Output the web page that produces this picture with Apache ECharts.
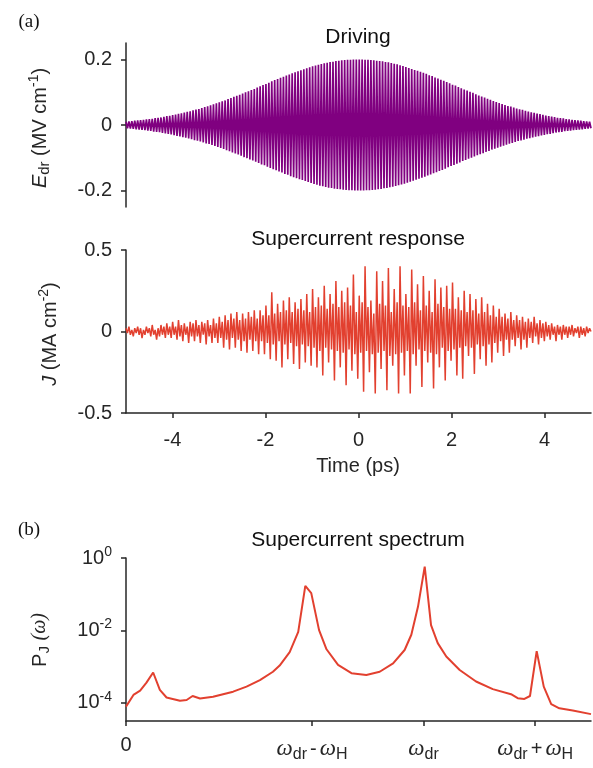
<!DOCTYPE html>
<html>
<head>
<meta charset="utf-8">
<script src="https://cdn.jsdelivr.net/npm/echarts@6/dist/echarts.min.js"></script>
<style>
html,body{margin:0;padding:0;background:#fff;}
#chart{width:593px;height:768px;}
</style>
</head>
<body>
<div id="chart"></div>
<script>
// ---- Data ----
const timeRange = [-5, 5];           // ps, sampling window of the two time traces
// Driving field extremes (MV/cm), alternating half-cycle peaks (a) top
const driveValues = [
 .010,-.010,.011,-.011,.012,-.012,.013,-.013,.014,-.014,.015,-.015,.016,-.016,.017,-.017,.018,-.018,.019,-.020,
 .021,-.021,.022,-.022,.023,-.024,.025,-.026,.027,-.027,.028,-.029,.030,-.031,.032,-.033,.034,-.035,.036,-.037,
 .038,-.039,.040,-.041,.042,-.043,.045,-.046,.047,-.048,.049,-.050,.052,-.053,.055,-.056,.057,-.058,.060,-.061,
 .063,-.064,.066,-.067,.069,-.070,.072,-.073,.075,-.077,.079,-.080,.082,-.084,.086,-.087,.089,-.090,.092,-.094,
 .096,-.098,.100,-.101,.103,-.105,.107,-.108,.110,-.112,.114,-.116,.118,-.120,.122,-.123,.125,-.127,.129,-.131,
 .133,-.135,.137,-.138,.140,-.142,.144,-.145,.147,-.149,.151,-.152,.154,-.156,.158,-.159,.161,-.162,.164,-.165,
 .167,-.168,.170,-.171,.173,-.174,.176,-.177,.179,-.180,.181,-.182,.184,-.185,.186,-.187,.188,-.189,.190,-.191,
 .192,-.192,.193,-.194,.195,-.195,.196,-.196,.197,-.197,.198,-.198,.199,-.199,.199,-.199,.200,-.200,.200,-.200,
 .200,-.200,.200,-.200,.199,-.199,.199,-.199,.198,-.198,.197,-.197,.196,-.196,.195,-.195,.194,-.193,.192,-.192,
 .191,-.190,.189,-.188,.187,-.186,.185,-.184,.182,-.181,.180,-.179,.177,-.176,.174,-.173,.171,-.170,.168,-.167,
 .165,-.164,.162,-.161,.159,-.158,.156,-.154,.152,-.151,.149,-.147,.145,-.144,.142,-.140,.138,-.137,.135,-.133,
 .131,-.129,.127,-.125,.123,-.122,.120,-.118,.116,-.114,.112,-.110,.108,-.107,.105,-.103,.101,-.100,.098,-.096,
 .094,-.092,.090,-.089,.087,-.086,.084,-.082,.080,-.079,.077,-.075,.073,-.072,.070,-.069,.067,-.066,.064,-.063,
 .061,-.060,.058,-.057,.056,-.055,.053,-.052,.050,-.049,.048,-.047,.046,-.045,.043,-.042,.041,-.040,.039,-.038,
 .037,-.036,.035,-.034,.033,-.032,.031,-.030,.029,-.028,.027,-.027,.026,-.025,.024,-.023,.022,-.022,.021,-.021,
 .020,-.019,.018,-.018,.017,-.017,.016,-.016,.015,-.015,.014,-.014,.013,-.013,.012,-.012,.011,-.011,.010,-.010
];
// Supercurrent response extremes (MA/cm^2) (a) bottom
const currentValues = [
 .02,-.01,.03,-.02,.01,-.03,.02,-.01, .03,-.02,.02,-.04,.01,-.02,.03,-.01, .02,-.03,.04,-.02,.01,-.05,.02,-.03, .04,-.02,.03,-.04,.05,-.02,.03,-.04,
 .06,-.02,.03,-.05,.07,-.03,.04,-.06, .05,-.02,.03,-.07,.06,-.03,.05,-.06, .07,-.03,.04,-.07,.06,-.02,.05,-.08, .07,-.03,.04,-.07,.08,-.04,.05,-.07,
 .09,-.04,.06,-.10,.10,-.05,.07,-.11, .11,-.04,.08,-.10,.12,-.05,.07,-.12, .11,-.06,.08,-.13,.12,-.05,.09,-.12, .13,-.06,.08,-.14,.13,-.06,.10,-.14,
 .16,-.07,.10,-.17,.24,-.08,.11,-.18, .17,-.06,.12,-.22,.19,-.08,.13,-.17, .21,-.07,.12,-.20,.18,-.09,.14,-.23, .20,-.08,.13,-.19,.23,-.09,.12,-.21,
 .26,-.10,.15,-.22,.21,-.12,.16,-.27, .28,-.10,.14,-.19,.23,-.11,.17,-.30, .31,-.12,.15,-.22,.25,-.13,.18,-.33, .27,-.11,.16,-.24,.35,-.14,.12,-.29,
 .22,-.13,.18,-.37,.40,-.12,.15,-.25, .19,-.14,.11,-.38,.37,-.13,.17,-.23, .31,-.12,.16,-.36,.39,-.15,.12,-.21, .26,-.14,.18,-.38,.40,-.13,.16,-.27,
 .23,-.12,.15,-.38,.38,-.14,.18,-.21, .29,-.11,.13,-.34,.34,-.12,.16,-.19, .25,-.13,.12,-.35,.32,-.14,.17,-.22, .27,-.10,.15,-.30,.28,-.12,.14,-.18,
 .30,-.11,.14,-.27,.21,-.10,.13,-.29, .25,-.09,.12,-.15,.23,-.10,.13,-.26, .20,-.08,.11,-.17,.21,-.09,.12,-.21, .17,-.08,.10,-.19,.16,-.07,.09,-.13,
 .14,-.06,.09,-.15,.11,-.05,.08,-.13, .12,-.05,.07,-.09,.10,-.04,.07,-.11, .09,-.05,.06,-.10,.08,-.04,.06,-.07, .09,-.03,.05,-.08,.07,-.04,.05,-.06,
 .06,-.03,.04,-.05,.05,-.02,.03,-.06, .04,-.02,.03,-.05,.04,-.02,.03,-.04, .03,-.02,.04,-.03,.02,-.01,.03,-.04, .03,-.02,.02,-.03,.03,-.01,.02,.00
];
// Spectrum (panel b): frequency in THz-like units (w_H = 3, w_dr = 8) and power
const specFreq = [0,0.2,0.38,0.55,0.73,0.91,1.09,1.45,1.63,1.79,1.99,2.34,2.88,3.24,3.6,3.95,4.13,4.4,4.63,4.82,4.98,5.19,5.39,5.7,6.06,6.46,6.82,7.18,7.49,7.67,7.85,8.03,8.2,8.38,8.61,8.97,9.41,9.86,10.35,10.53,10.71,10.86,11.04,11.23,11.43,11.65,12.01,12.5];
const specPower = [7.9e-5,1.66e-4,2.19e-4,3.63e-4,6.9e-4,2.29e-4,1.41e-4,1.15e-4,1.2e-4,1.55e-4,1.32e-4,1.48e-4,2.04e-4,2.82e-4,4.27e-4,7.24e-4,1.07e-3,2.51e-3,9.1e-3,0.17,0.107,0.0102,3.02e-3,1.12e-3,6.6e-4,5.9e-4,7.24e-4,1.23e-3,2.88e-3,7.6e-3,0.0457,0.575,0.0141,4.47e-3,1.9e-3,8.1e-4,3.89e-4,2.4e-4,1.74e-4,1.35e-4,1.29e-4,1.55e-4,2.69e-3,2.82e-4,9.3e-5,7.1e-5,6.2e-5,4.9e-5];
const omegaH = 3, omegaDr = 8;
const specTicks = [0, omegaDr - omegaH, omegaDr, omegaDr + omegaH];
const driveTicks = [-0.2, 0, 0.2];
const currentTicks = [-0.5, 0, 0.5];
const timeTicks = [-4, -2, 0, 2, 4];
const powerTicks = [1e-4, 1e-2, 1];

// ---- Build ----
function sampled(values) {
  const n = values.length, step = (timeRange[1] - timeRange[0]) / (n - 1);
  return values.map((v, i) => [timeRange[0] + i * step, v]);
}
const AX = '#262626';
const SANS = 'Liberation Sans, Arial, sans-serif';
const SERIF = 'Liberation Serif, DejaVu Serif, serif';
const PURPLE = '#800080';
const RED = '#e2402f';
const FS = 20;

function axisBase(extra) {
  return Object.assign({
    axisLine: { show: true, onZero: false, lineStyle: { color: AX, width: 1.5 } },
    splitLine: { show: false },
    axisTick: { show: true, inside: false, length: 5, lineStyle: { color: AX, width: 1.5 } },
    axisLabel: { color: AX, fontSize: FS, fontFamily: SANS, margin: 12 }
  }, extra);
}

const chart = echarts.init(document.getElementById('chart'), null, { renderer: 'canvas' });
const fmtNum = v => (Math.abs(v) < 1e-12 ? '0' : String(v));
const supRich = {
  b: { fontSize: FS, fontFamily: SANS, color: AX },
  p: { fontSize: 14, fontFamily: SANS, color: AX, padding: [0, 0, 12, 0] }
};
const omRich = {
  w: { fontSize: 23, fontFamily: SERIF, fontStyle: 'italic', color: AX },
  s: { fontSize: 16, fontFamily: SANS, color: AX, padding: [12, 0, 0, 0] },
  o: { fontSize: FS, fontFamily: SANS, color: AX, padding: [0, 3, 0, 3] },
  z: { fontSize: FS, fontFamily: SANS, color: AX }
};

const option = {
  animation: false,
  backgroundColor: '#fff',
  grid: [
    { left: 126, top: 43, width: 465, height: 164 },
    { left: 126, top: 250, width: 465, height: 163 },
    { left: 126, top: 558, width: 465, height: 163 }
  ],
  xAxis: [
    { type: 'value', gridIndex: 0, min: timeRange[0], max: timeRange[1], show: false },
    axisBase({ type: 'value', gridIndex: 1, min: timeRange[0], max: timeRange[1],
      axisTick: { show: true, length: 5, customValues: timeTicks, lineStyle: { color: AX, width: 1.5 } },
      axisLabel: { color: AX, fontSize: FS, fontFamily: SANS, margin: 17, customValues: timeTicks, formatter: fmtNum } }),
    axisBase({ type: 'value', gridIndex: 2, min: 0, max: 12.5,
      axisTick: { show: true, length: 5, customValues: specTicks, lineStyle: { color: AX, width: 1.5 } },
      axisLabel: { color: AX, fontSize: FS, fontFamily: SANS, margin: 14, customValues: specTicks,
        rich: omRich,
        formatter: v => {
          if (Math.abs(v) < 1e-9) return '{z|0}';
          if (Math.abs(v - (omegaDr - omegaH)) < 1e-6) return '{w|ω}{s|dr}{o|-}{w|ω}{s|H}';
          if (Math.abs(v - omegaDr) < 1e-6) return '{w|ω}{s|dr}';
          return '{w|ω}{s|dr}{o|+}{w|ω}{s|H}';
        } } })
  ],
  yAxis: [
    axisBase({ type: 'value', gridIndex: 0, min: -0.25, max: 0.25,
      axisTick: { show: true, length: 5, customValues: driveTicks, lineStyle: { color: AX, width: 1.5 } },
      axisLabel: { color: AX, fontSize: FS, fontFamily: SANS, margin: 14, customValues: driveTicks, formatter: fmtNum } }),
    axisBase({ type: 'value', gridIndex: 1, min: -0.5, max: 0.5,
      axisTick: { show: true, length: 5, customValues: currentTicks, lineStyle: { color: AX, width: 1.5 } },
      axisLabel: { color: AX, fontSize: FS, fontFamily: SANS, margin: 14, customValues: currentTicks, formatter: fmtNum } }),
    axisBase({ type: 'log', gridIndex: 2, logBase: 10, min: Math.pow(10, -4.5), max: 1,
      axisTick: { show: true, length: 5, customValues: powerTicks, lineStyle: { color: AX, width: 1.5 } },
      axisLabel: { color: AX, fontSize: FS, fontFamily: SANS, margin: 14, customValues: powerTicks, rich: supRich,
        formatter: v => '{b|10}{p|' + Math.round(Math.log10(v)) + '}' } })
  ],
  series: [
    { type: 'line', xAxisIndex: 0, yAxisIndex: 0, data: sampled(driveValues), showSymbol: false,
      lineStyle: { color: PURPLE, width: 1.7 }, silent: true },
    { type: 'line', xAxisIndex: 1, yAxisIndex: 1, data: sampled(currentValues), showSymbol: false,
      lineStyle: { color: RED, width: 1.5 }, silent: true },
    { type: 'line', xAxisIndex: 2, yAxisIndex: 2, data: specFreq.map((f, i) => [f, specPower[i]]), showSymbol: false,
      lineStyle: { color: RED, width: 2 }, silent: true }
  ],
  graphic: [
    { type: 'text', x: 29, y: 22, style: { text: '(a)', font: '19px ' + SERIF, fill: '#111', align: 'center', verticalAlign: 'middle' } },
    { type: 'text', x: 29, y: 530, style: { text: '(b)', font: '19px ' + SERIF, fill: '#111', align: 'center', verticalAlign: 'middle' } },
    { type: 'text', x: 358, y: 37, style: { text: 'Driving', font: '21px ' + SANS, fill: '#111', align: 'center', verticalAlign: 'middle' } },
    { type: 'text', x: 358, y: 239, style: { text: 'Supercurrent response', font: '21px ' + SANS, fill: '#111', align: 'center', verticalAlign: 'middle' } },
    { type: 'text', x: 358, y: 540, style: { text: 'Supercurrent spectrum', font: '21px ' + SANS, fill: '#111', align: 'center', verticalAlign: 'middle' } },
    { type: 'text', x: 358, y: 466, style: { text: 'Time (ps)', font: '20px ' + SANS, fill: AX, align: 'center', verticalAlign: 'middle' } },
    { type: 'text', x: 40, y: 128, rotation: Math.PI / 2,
      style: { text: '{i|E}{s|dr} (MV cm{p|-1})', align: 'center', verticalAlign: 'middle', fill: AX,
        rich: { i: { fontSize: FS, fontFamily: SANS, fontStyle: 'italic', fill: AX }, s: { fontSize: 15, fontFamily: SANS, padding: [10, 0, 0, 0], fill: AX },
                p: { fontSize: 14, fontFamily: SANS, padding: [0, 0, 12, 0], fill: AX } },
        font: FS + 'px ' + SANS } },
    { type: 'text', x: 50, y: 334, rotation: Math.PI / 2,
      style: { text: '{i|J} (MA cm{p|-2})', align: 'center', verticalAlign: 'middle', fill: AX,
        rich: { i: { fontSize: FS, fontFamily: SANS, fontStyle: 'italic', fill: AX },
                p: { fontSize: 14, fontFamily: SANS, padding: [0, 0, 12, 0], fill: AX } },
        font: FS + 'px ' + SANS } },
    { type: 'text', x: 40, y: 640, rotation: Math.PI / 2,
      style: { text: '{i|P}{s|J} {w|(ω)}', align: 'center', verticalAlign: 'middle', fill: AX,
        rich: { i: { fontSize: FS, fontFamily: SANS, fill: AX }, s: { fontSize: 15, fontFamily: SANS, padding: [10, 0, 0, 0], fill: AX },
                w: { fontSize: 20, fontFamily: SERIF, fontStyle: 'italic', fill: AX } },
        font: FS + 'px ' + SANS } }
  ]
};
chart.setOption(option);
</script>
</body>
</html>
